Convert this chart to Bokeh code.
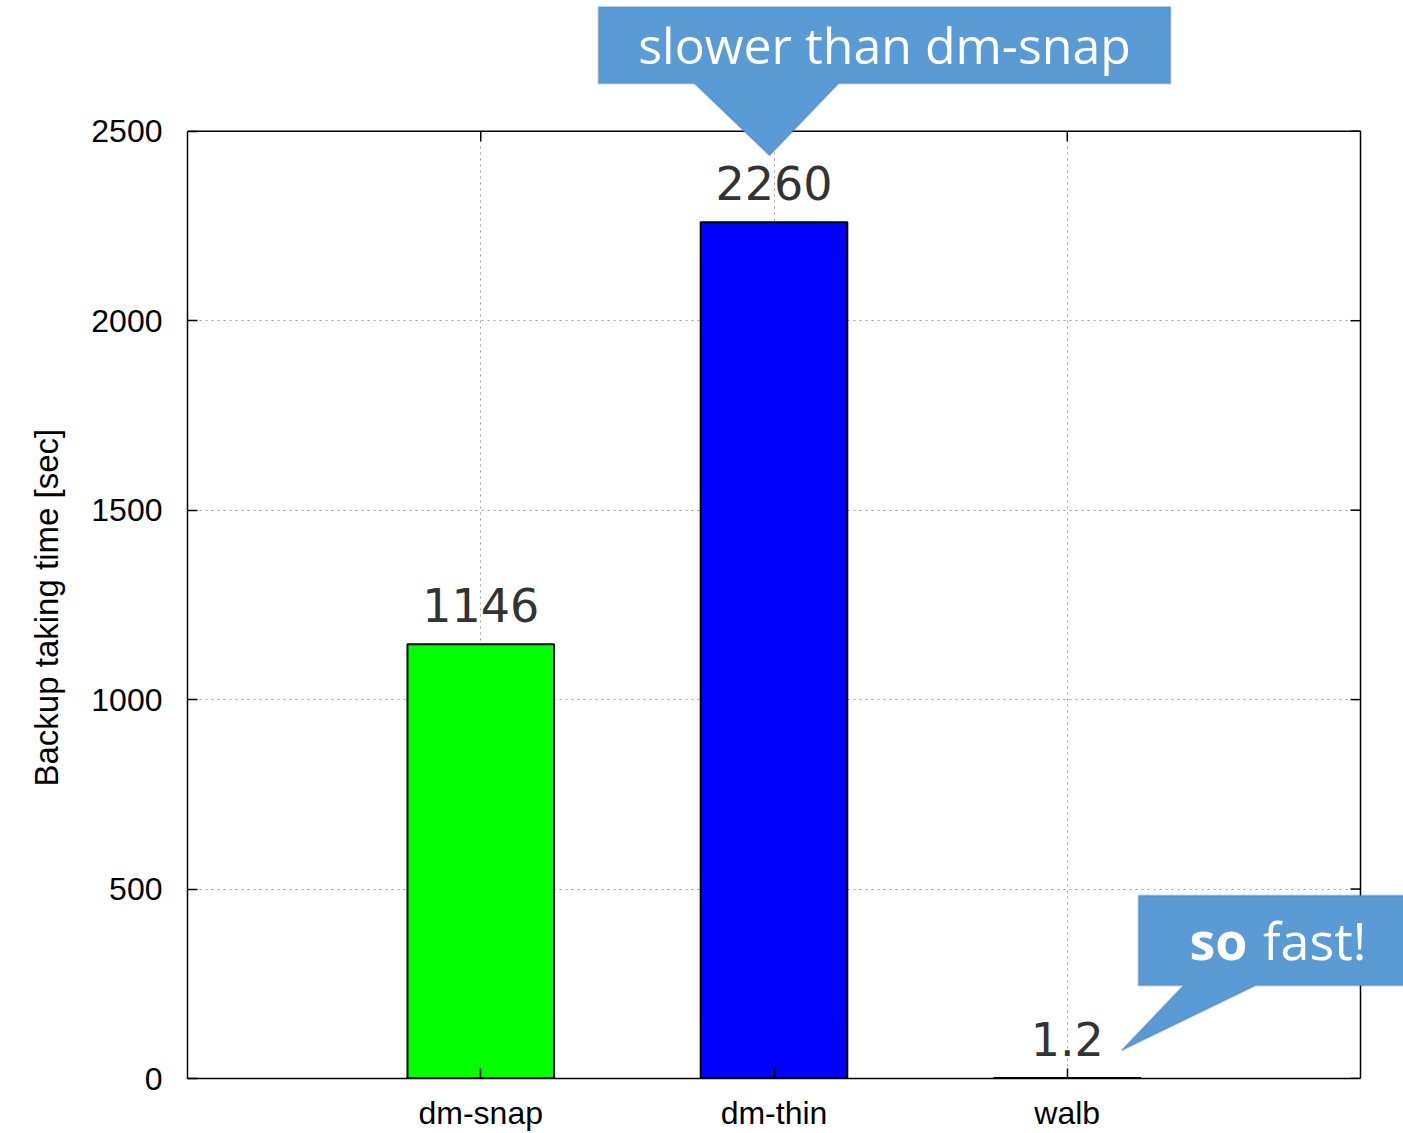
import numpy as np
from bokeh.plotting import figure
from bokeh.models import (ColumnDataSource, Range1d, FixedTicker, PolyAnnotation, Label, Title)
from bokeh.core.properties import value
from bokeh.embed import file_html
from bokeh.resources import INLINE

# ---- data ----
categories = ["dm-snap", "dm-thin", "walb"]
times = [1146, 2260, 1.2]
time_labels = ["1146", "2260", "1.2"]
bar_colors = ["#00ff00", "#0000ff", "#ff0000"]
y_ticks = [0, 500, 1000, 1500, 2000, 2500]
y_title = "Backup taking time [sec]"
callout_top = "slower than dm-snap"
callout_bold = "so"
callout_rest = "fast!"

positions = list(range(len(categories)))
x_lo, x_hi = -1, len(categories)
y_min, y_max = 0, 2500

# layout (pixels): plot box 187..1360 x 131..1080; frame extended to hold callouts
BOX_L, BOX_R, BOX_T, BOX_B = 187, 1360, 131, 1080
FRAME_R, FRAME_T = 1403, 6
px_x = (BOX_R - BOX_L) / (x_hi - x_lo)
px_y = (BOX_B - BOX_T) / (y_max - y_min)

src = ColumnDataSource(dict(x=positions, cat=categories, val=times, lab=time_labels, col=bar_colors))

p = figure(width=1403, height=1133, output_backend="svg", toolbar_location=None,
           x_range=Range1d(x_lo, x_hi + (FRAME_R - BOX_R) / px_x),
           y_range=Range1d(y_min, y_max + (BOX_T - FRAME_T) / px_y),
           min_border_left=BOX_L, min_border_right=0, min_border_top=FRAME_T,
           min_border_bottom=1133 - BOX_B)
p.background_fill_color = "white"
p.border_fill_color = "white"
p.outline_line_color = None

GRID = dict(line_color="#a0a0a0", line_dash="2 4", line_width=1)
try:
    p.xgrid.cross_bounds = (y_min, y_max)
    p.ygrid.cross_bounds = (x_lo, x_hi)
    for g in (p.xgrid, p.ygrid):
        g.grid_line_color = GRID["line_color"]
        g.grid_line_dash = GRID["line_dash"]
        g.grid_line_width = GRID["line_width"]
except AttributeError:
    p.xgrid.visible = False
    p.ygrid.visible = False
    p.segment(x0=positions, x1=positions, y0=[y_min] * len(positions), y1=[y_max] * len(positions), **GRID)
    p.segment(x0=[x_lo] * len(y_ticks), x1=[x_hi] * len(y_ticks), y0=y_ticks, y1=y_ticks, **GRID)

p.vbar(x="x", top="val", width=0.5, bottom=0, source=src, fill_color="col",
       line_color="black", line_width=2)
p.text(x="x", y="val", text="lab", source=src, text_align="center", text_baseline="alphabetic",
       y_offset=-39, text_font=value("DejaVu Sans"), text_font_size="46px", text_color="#333333")

# top and right border of the plot box, with mirrored inward ticks
p.line(x=[x_lo, x_hi, x_hi], y=[y_max, y_max, y_min], line_color="black", line_width=1.5)
p.ray(x=[x_hi] * len(y_ticks), y=y_ticks, length=10, length_units="screen", angle=np.pi,
      line_color="black", line_width=1.5)
p.ray(x=positions, y=[y_max] * len(positions), length=10, length_units="screen", angle=-np.pi / 2,
      line_color="black", line_width=1.5)

def style_axis(ax):
    ax.axis_line_color = "black"
    ax.axis_line_width = 1.5
    ax.major_tick_in = 10
    ax.major_tick_out = 0
    ax.major_tick_line_color = "black"
    ax.major_tick_line_width = 1.5
    ax.minor_tick_in = 0
    ax.minor_tick_out = 0
    ax.major_label_text_font = "Liberation Sans"
    ax.major_label_text_font_size = "32px"
    ax.major_label_text_color = "black"

yax = p.yaxis[0]
yax.ticker = FixedTicker(ticks=y_ticks)
yax.bounds = (y_min, y_max)
style_axis(yax)
yax.major_label_standoff = 25

# y title as a side-panel title, aligned to the plot box (not the extended frame)
p.add_layout(Title(text=y_title, align="left", offset=292, vertical_align="top",
                   text_font="Liberation Sans", text_font_size="33px", text_font_style="normal",
                   text_color="black", standoff=43), "left")

xax = p.xaxis[0]
xax.ticker = FixedTicker(ticks=positions)
xax.major_label_overrides = {i: c for i, c in zip(positions, categories)}
xax.bounds = (x_lo, x_hi)
style_axis(xax)
xax.major_label_standoff = 16

# ---- callouts (canvas pixel units) ----
CALLOUT = dict(xs_units="canvas", ys_units="canvas", fill_color="#5b9bd5", fill_alpha=1,
               line_color="#41719c", line_width=2, level="overlay")
p.add_layout(PolyAnnotation(xs=[598, 1170, 1170, 838, 769, 694, 598],
                            ys=[6, 6, 83, 83, 155, 83, 83], **CALLOUT))
p.add_layout(PolyAnnotation(xs=[1138, 1410, 1410, 1255, 1121, 1183, 1138],
                            ys=[895, 895, 985, 985, 1050, 985, 985], **CALLOUT))
TXT = dict(x_units="canvas", y_units="canvas", text_baseline="alphabetic", text_font="Open Sans",
           text_color="white", level="overlay")
p.add_layout(Label(x=884, y=44, text=callout_top, text_align="center", text_font_size="50px", **TXT))
p.add_layout(Label(x=1189, y=939, text=callout_bold, text_align="left", text_font_style="bold",
                   text_font_size="52px", **TXT))
p.add_layout(Label(x=1366, y=939, text=callout_rest, text_align="right", text_font_size="52px", **TXT))

open("out.html", "w").write(file_html(p, INLINE))
